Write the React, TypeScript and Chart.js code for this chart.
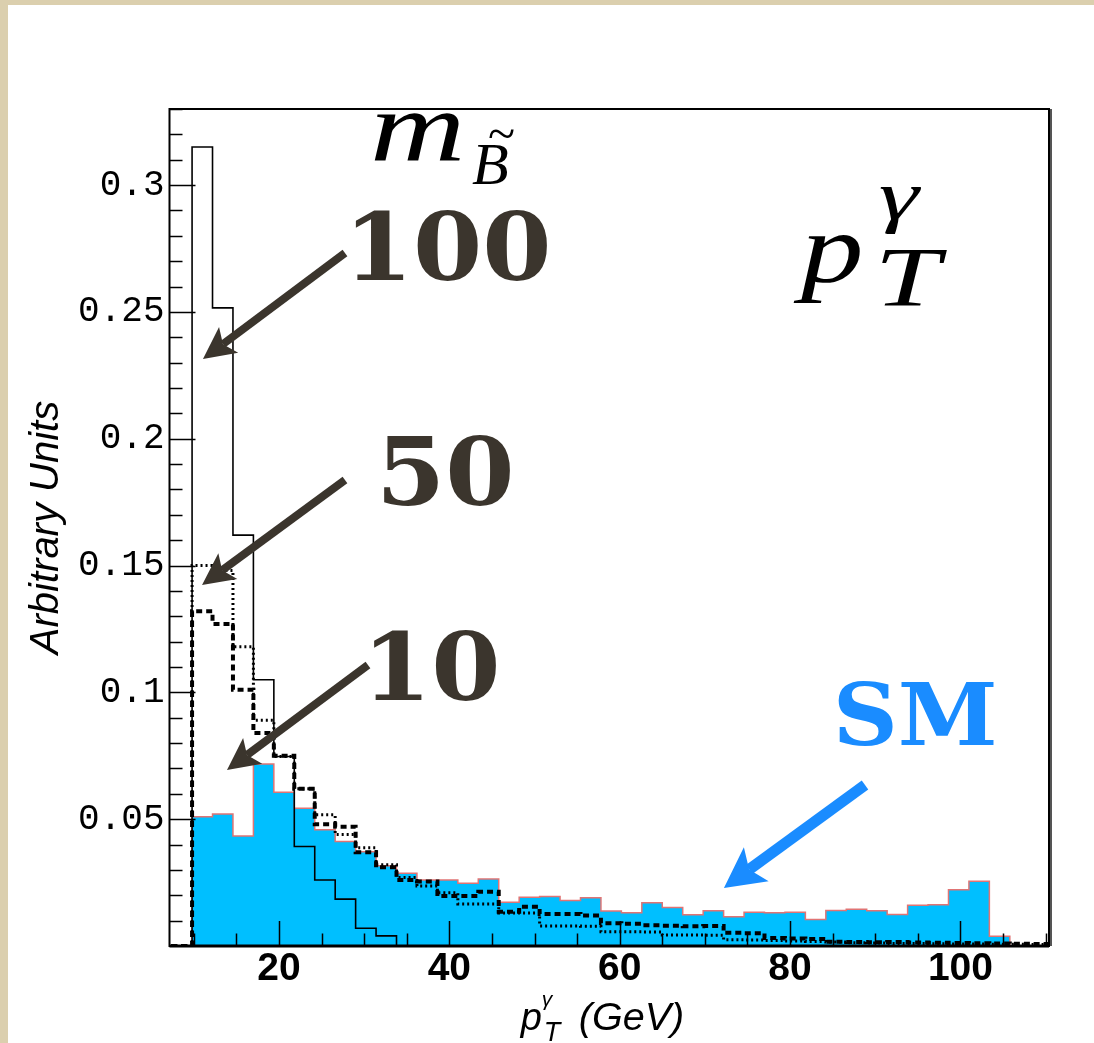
import React, { useEffect, useRef } from 'react';
import { Chart, registerables } from 'chart.js';

Chart.register(...registerables);

// ---------------- data ----------------
const BIN_START = 9.8; // GeV, low edge of first bin
const BIN_WIDTH = 2.4; // GeV

// Standard Model background (filled histogram)
const smValues = [
  0.051, 0.052, 0.0434, 0.0718, 0.0606, 0.0543, 0.0458, 0.0412, 0.0372, 0.0316,
  0.0287, 0.026, 0.026, 0.0247, 0.0264, 0.0172, 0.0192, 0.0195, 0.0179, 0.019,
  0.0138, 0.0131, 0.0171, 0.0152, 0.0123, 0.0139, 0.0115, 0.0133, 0.0131, 0.0133,
  0.0104, 0.014, 0.0145, 0.0139, 0.0124, 0.0161, 0.0163, 0.0222, 0.0255, 0.0038,
  0, 0,
];

// m_B = 100 GeV (solid)
const m100Values = [
  0.315, 0.2516, 0.162, 0.105, 0.0747, 0.0392, 0.026, 0.0185, 0.007, 0.004,
  0, 0, 0, 0, 0, 0, 0, 0, 0, 0,
  0, 0, 0, 0, 0, 0, 0, 0, 0, 0,
  0, 0, 0, 0, 0, 0, 0, 0, 0, 0,
  0, 0,
];

// m_B = 50 GeV (dotted)
const m50Values = [
  0.15, 0.148, 0.118, 0.089, 0.0747, 0.062, 0.0517, 0.044, 0.0387, 0.032,
  0.027, 0.0237, 0.021, 0.0166, 0.0166, 0.013, 0.013, 0.0079, 0.0079, 0.0078,
  0.0056, 0.0056, 0.0055, 0.0043, 0.0043, 0.0042, 0.0025, 0.0024, 0.0022, 0.002,
  0.0018, 0.0016, 0.0013, 0.0012, 0.001, 0.001, 0.0009, 0.0008, 0.0008, 0.0007,
  0.0007, 0.0006,
];

// m_B = 10 GeV (dashed)
const m10Values = [
  0.132, 0.127, 0.101, 0.084, 0.075, 0.062, 0.048, 0.047, 0.037, 0.031,
  0.026, 0.0254, 0.0197, 0.0197, 0.0214, 0.0135, 0.0155, 0.0126, 0.0126, 0.012,
  0.009, 0.0088, 0.0082, 0.008, 0.0078, 0.0079, 0.0052, 0.005, 0.0032, 0.003,
  0.0028, 0.0017, 0.0016, 0.0015, 0.0016, 0.0014, 0.0013, 0.0012, 0.0011, 0.001,
  0.0009, 0.0008,
];

const X_MIN = 7.15;
const X_MAX = 110.4;
const Y_MIN = 0;
const Y_MAX = 0.33;

const xMajorTicks = [20, 40, 60, 80, 100];
const xTickLabels = ['20', '40', '60', '80', '100'];
const yMajorTicks = [0.05, 0.1, 0.15, 0.2, 0.25, 0.3];
const yTickLabels = ['0.05', '0.1', '0.15', '0.2', '0.25', '0.3'];
const X_MINOR_STEP = 5;
const Y_MINOR_STEP = 0.01;

const massLabels = ['100', '50', '10'];
const smLabel = 'SM';

// ---------------- annotation layout (data coordinates) ----------------
const massLabelAnchors = [
  { x: 27.6, y: 0.2626 },
  { x: 31.39, y: 0.1739 },
  { x: 29.75, y: 0.097 },
];
const massArrows = [
  { x1: 27.75, y1: 0.2732, x2: 11.08, y2: 0.2314 },
  { x1: 27.75, y1: 0.1837, x2: 10.97, y2: 0.1423 },
  { x1: 30.45, y1: 0.1108, x2: 13.9, y2: 0.0694 },
];
const smAnchor = { x: 85.0, y: 0.0792 };
const smArrow = { x1: 88.8, y1: 0.0635, x2: 72.24, y2: 0.0229 };
const mAnchor = { x: 30.7, y: 0.3099 };
const bAnchor = { x: 42.65, y: 0.3004 };
const pAnchor = { x: 81.3, y: 0.2618 };
const gammaAnchor = { x: 90.4, y: 0.2868 };
const tAnchor = { x: 89.9, y: 0.2523 };

const DARK = '#3b352d';
const BLUE = '#1a8cff';
const SM_FILL = '#00bfff';
const SM_LINE = '#e07474';
const BEIGE = '#dbcfae';

function histPoints(values: number[]) {
  const pts: { x: number; y: number }[] = [{ x: X_MIN - 1, y: 0 }];
  values.forEach((v, i) => pts.push({ x: BIN_START + i * BIN_WIDTH, y: v }));
  pts.push({ x: BIN_START + values.length * BIN_WIDTH, y: 0 });
  return pts;
}

function drawArrow(
  ctx: CanvasRenderingContext2D,
  x1: number, y1: number, x2: number, y2: number,
  width: number, headLen: number, headHalf: number, color: string
) {
  const dx = x2 - x1;
  const dy = y2 - y1;
  const len = Math.hypot(dx, dy);
  const ux = dx / len;
  const uy = dy / len;
  const px = -uy;
  const py = ux;
  const notch = headLen * 0.78;
  ctx.save();
  ctx.strokeStyle = color;
  ctx.fillStyle = color;
  ctx.lineWidth = width;
  ctx.lineCap = 'butt';
  ctx.beginPath();
  ctx.moveTo(x1, y1);
  ctx.lineTo(x2 - ux * notch, y2 - uy * notch);
  ctx.stroke();
  ctx.beginPath();
  ctx.moveTo(x2, y2);
  ctx.lineTo(x2 - ux * headLen + px * headHalf, y2 - uy * headLen + py * headHalf);
  ctx.lineTo(x2 - ux * notch, y2 - uy * notch);
  ctx.lineTo(x2 - ux * headLen - px * headHalf, y2 - uy * headLen - py * headHalf);
  ctx.closePath();
  ctx.fill();
  ctx.restore();
}

function scaledText(
  ctx: CanvasRenderingContext2D, text: string, x: number, y: number, font: string, sx: number
) {
  ctx.save();
  ctx.translate(x, y);
  ctx.scale(sx, 1);
  ctx.font = font;
  ctx.fillText(text, 0, 0);
  ctx.restore();
}

const decorPlugin = {
  id: 'decor',
  beforeDraw(chart: any) {
    const ctx = chart.ctx as CanvasRenderingContext2D;
    ctx.save();
    ctx.fillStyle = BEIGE;
    ctx.fillRect(0, 0, chart.width, chart.height);
    ctx.fillStyle = '#ffffff';
    ctx.fillRect(8, 5, chart.width - 8, chart.height - 5);
    ctx.restore();
  },
  afterDatasetsDraw(chart: any) {
    const ctx = chart.ctx as CanvasRenderingContext2D;
    const xs = chart.scales.x;
    const ys = chart.scales.y;
    const ca = chart.chartArea;
    const X = (v: number) => xs.getPixelForValue(v);
    const Y = (v: number) => ys.getPixelForValue(v);

    ctx.save();
    // inside tick marks
    ctx.strokeStyle = '#000';
    ctx.lineWidth = 1.5;
    ctx.beginPath();
    const nY = Math.round((Y_MAX - Y_MIN) / Y_MINOR_STEP);
    for (let i = 1; i <= nY; i++) {
      const v = i * Y_MINOR_STEP;
      const major = yMajorTicks.some((m) => Math.abs(m - v) < 1e-9);
      const py = Math.round(Y(v)) + 0.5;
      ctx.moveTo(ca.left, py);
      ctx.lineTo(ca.left + (major ? 26 : 13), py);
    }
    const iStart = Math.ceil(X_MIN / X_MINOR_STEP);
    const iEnd = Math.floor(X_MAX / X_MINOR_STEP);
    for (let i = iStart; i <= iEnd; i++) {
      const v = i * X_MINOR_STEP;
      const major = xMajorTicks.includes(v);
      const px = Math.round(X(v)) + 0.5;
      ctx.moveTo(px, ca.bottom);
      ctx.lineTo(px, ca.bottom - (major ? 25 : 12.5));
    }
    ctx.stroke();

    // frame
    ctx.lineWidth = 2;
    ctx.strokeStyle = '#000';
    ctx.strokeRect(ca.left, ca.top, ca.right - ca.left, ca.bottom - ca.top);
    ctx.lineWidth = 3;
    ctx.beginPath();
    ctx.moveTo(ca.left, ca.bottom);
    ctx.lineTo(ca.right, ca.bottom);
    ctx.stroke();
    ctx.strokeStyle = '#555';
    ctx.lineWidth = 2;
    ctx.beginPath();
    ctx.moveTo(ca.right + 2, ca.top);
    ctx.lineTo(ca.right + 2, ca.bottom);
    ctx.stroke();

    // arrows
    massArrows.forEach((a) =>
      drawArrow(ctx, X(a.x1), Y(a.y1), X(a.x2), Y(a.y2), 8, 32, 16, DARK)
    );
    drawArrow(ctx, X(smArrow.x1), Y(smArrow.y1), X(smArrow.x2), Y(smArrow.y2), 11, 40, 21, BLUE);

    // mass labels
    ctx.textAlign = 'left';
    ctx.textBaseline = 'alphabetic';
    ctx.fillStyle = DARK;
    massLabels.forEach((t, i) => {
      scaledText(ctx, t, X(massLabelAnchors[i].x), Y(massLabelAnchors[i].y), 'bold 94px "DejaVu Serif"', 1.06);
    });
    ctx.fillStyle = BLUE;
    scaledText(ctx, smLabel, X(smAnchor.x), Y(smAnchor.y), 'bold 86px "DejaVu Serif"', 1.05);

    // m_{B~}
    ctx.fillStyle = '#000';
    scaledText(ctx, 'm', X(mAnchor.x), Y(mAnchor.y), 'italic 100px "Liberation Serif"', 1.32);
    ctx.font = 'italic 60px "Liberation Serif"';
    ctx.fillText('B', X(bAnchor.x), Y(bAnchor.y));
    ctx.font = '50px "Liberation Serif"';
    ctx.fillText('~', X(bAnchor.x) + 16, Y(bAnchor.y) - 34);

    // p_T^gamma
    scaledText(ctx, 'p', X(pAnchor.x), Y(pAnchor.y), 'italic 100px "Liberation Serif"', 1.25);
    scaledText(ctx, '\u03B3', X(gammaAnchor.x), Y(gammaAnchor.y), 'italic 70px "Liberation Serif"', 1.45);
    scaledText(ctx, 'T', X(tAnchor.x), Y(tAnchor.y), 'italic 84px "Liberation Serif"', 1.4);

    // x axis title
    const tx = X(48.4);
    const ty = ca.bottom + 84;
    ctx.font = 'italic 38px "Liberation Sans"';
    ctx.fillText('p', tx, ty);
    ctx.font = 'italic 21px "Liberation Sans"';
    ctx.fillText('\u03B3', tx + 21, ty - 24);
    ctx.font = 'italic 27px "Liberation Sans"';
    ctx.fillText('T', tx + 23, ty + 11);
    scaledText(ctx, '(GeV)', tx + 58, ty, 'italic 38px "Liberation Sans"', 1.04);

    // y axis title
    ctx.save();
    ctx.translate(58, Y(0.165));
    ctx.rotate(-Math.PI / 2);
    ctx.textAlign = 'center';
    ctx.font = 'italic 40px "Liberation Sans"';
    ctx.fillText('Arbitrary Units', 0, 0);
    ctx.restore();

    ctx.restore();
  },
};

export default function App() {
  const canvasRef = useRef<HTMLCanvasElement | null>(null);

  useEffect(() => {
    const canvas = canvasRef.current;
    if (!canvas) return;
    const chart = new Chart(canvas, {
      type: 'line',
      data: {
        datasets: [
          {
            label: 'm = 100',
            data: histPoints(m100Values),
            stepped: 'before',
            borderColor: '#000',
            borderWidth: 1.6,
            pointRadius: 0,
            fill: false,
          },
          {
            label: 'm = 50',
            data: histPoints(m50Values),
            stepped: 'before',
            borderColor: '#000',
            borderWidth: 3,
            borderDash: [2, 3],
            pointRadius: 0,
            fill: false,
          },
          {
            label: 'm = 10',
            data: histPoints(m10Values),
            stepped: 'before',
            borderColor: '#000',
            borderWidth: 4,
            borderDash: [6, 4],
            pointRadius: 0,
            fill: false,
          },
          {
            label: 'SM',
            data: histPoints(smValues),
            stepped: 'before',
            borderColor: SM_LINE,
            borderWidth: 1.5,
            backgroundColor: SM_FILL,
            pointRadius: 0,
            fill: 'origin',
          },
        ],
      },
      options: {
        animation: false,
        responsive: false,
        maintainAspectRatio: false,
        layout: { padding: { top: 109, right: 45, left: 0, bottom: 0 } },
        plugins: {
          legend: { display: false },
          tooltip: { enabled: false },
          title: { display: false },
        },
        elements: { line: { tension: 0 } },
        scales: {
          x: {
            type: 'linear',
            position: 'bottom',
            min: X_MIN,
            max: X_MAX,
            grid: { display: false, drawTicks: false },
            border: { display: false },
            ticks: {
              autoSkip: false,
              maxRotation: 0,
              minRotation: 0,
              padding: 0,
              color: '#000',
              font: { family: '"Liberation Sans", Arial, sans-serif', weight: 'bold', size: 39 },
              callback: (_v: any, i: number) => xTickLabels[i],
            },
            afterBuildTicks: (s: any) => {
              s.ticks = xMajorTicks.map((v) => ({ value: v }));
            },
            afterFit: (s: any) => {
              s.height = 97;
            },
          },
          y: {
            type: 'linear',
            position: 'left',
            min: Y_MIN,
            max: Y_MAX,
            grid: { display: false, drawTicks: false },
            border: { display: false },
            ticks: {
              autoSkip: false,
              padding: 5,
              color: '#000',
              font: { family: '"Liberation Mono", monospace', size: 36 },
              callback: (_v: any, i: number) => yTickLabels[i],
            },
            afterBuildTicks: (s: any) => {
              s.ticks = yMajorTicks.map((v) => ({ value: v }));
            },
            afterFit: (s: any) => {
              s.width = 169.5;
            },
          },
        },
      },
      plugins: [decorPlugin],
    });
    return () => chart.destroy();
  }, []);

  return (
    <div style={{ position: 'absolute', left: 0, top: 0, width: 1094, height: 1043 }}>
      <canvas ref={canvasRef} width={1094} height={1043} style={{ width: 1094, height: 1043, display: 'block' }} />
    </div>
  );
}
